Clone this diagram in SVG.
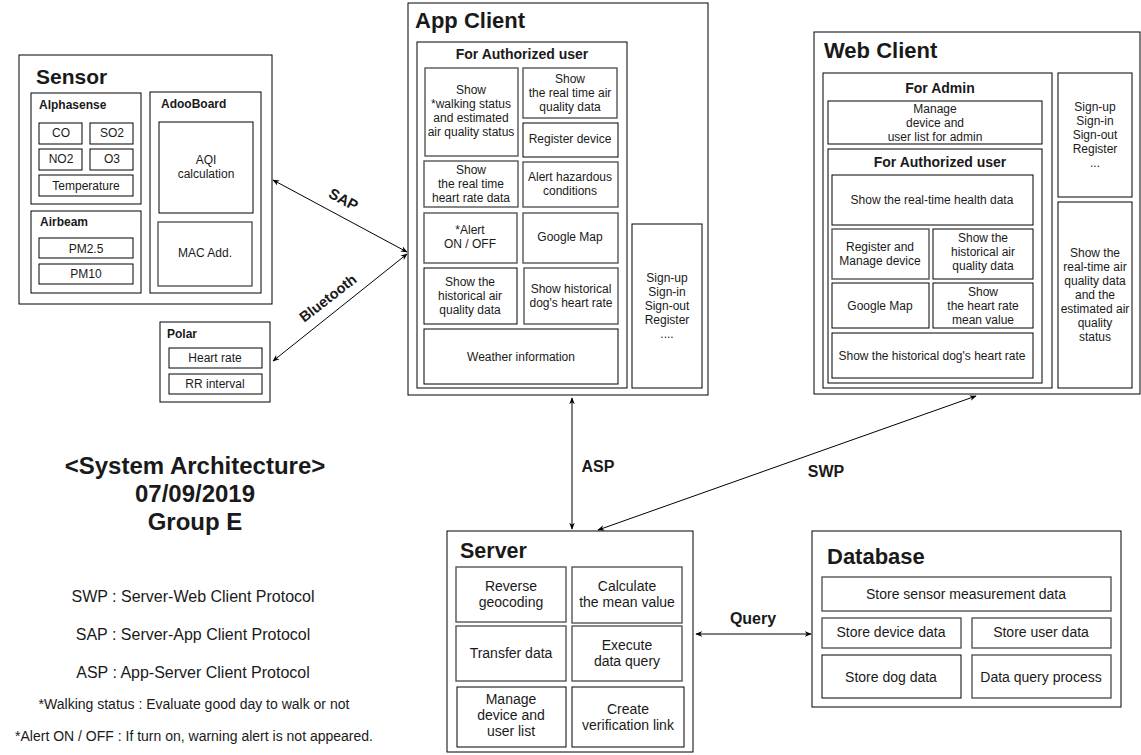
<svg xmlns="http://www.w3.org/2000/svg" width="1141" height="755" viewBox="0 0 1141 755">
<defs>
<marker id="ah" viewBox="0 0 10 10" refX="9" refY="5" markerWidth="7" markerHeight="7" orient="auto-start-reverse" markerUnits="userSpaceOnUse">
<path d="M0,1 L10,5 L0,9 L3,5 Z" fill="#000"/>
</marker>
<style>
text{font-family:"Liberation Sans",Arial,sans-serif;fill:#1a1a1a}
.box{fill:#fff;stroke:#000;stroke-width:1}
.in{fill:#fff;stroke:#555;stroke-width:1.4}
.t{font-size:12px;text-anchor:middle}
.t13{font-size:14px;text-anchor:middle}
.h1{font-size:22px;font-weight:bold}
.h2{font-size:14px;font-weight:bold;text-anchor:middle}
.h3{font-size:12px;font-weight:bold}
.lbl{font-size:16px;font-weight:bold;text-anchor:middle}
.line{stroke:#000;stroke-width:1;fill:none}
</style>
</defs>
<rect width="1141" height="755" fill="#fff"/>

<g id="connectors">
<line class="line" x1="273" y1="180" x2="407" y2="252" marker-start="url(#ah)" marker-end="url(#ah)"/>
<line class="line" x1="273" y1="361" x2="407" y2="254" marker-start="url(#ah)" marker-end="url(#ah)"/>
<line class="line" x1="572" y1="398" x2="572" y2="529" marker-start="url(#ah)" marker-end="url(#ah)"/>
<line class="line" x1="976" y1="396" x2="598" y2="530" marker-start="url(#ah)" marker-end="url(#ah)"/>
<line class="line" x1="696" y1="634" x2="811" y2="634" marker-start="url(#ah)" marker-end="url(#ah)"/>
<text class="lbl" style="font-size:15px" transform="translate(341,204) rotate(28)">SAP</text>
<text class="lbl" style="font-size:14.5px" transform="translate(331,302) rotate(-38)">Bluetooth</text>
<text class="lbl" x="598" y="472">ASP</text>
<text class="lbl" x="826" y="477">SWP</text>
<text class="lbl" x="753" y="624">Query</text>
</g>

<g id="sensor">
<rect class="box" x="19" y="55" width="253" height="249"/>
<text class="h1" x="36" y="84" style="font-size:21px">Sensor</text>
<g id="alphasense">
<rect class="box" x="31" y="93" width="110" height="111"/>
<text class="h3" x="39" y="109">Alphasense</text>
<rect class="box" x="39" y="123" width="43" height="21"/><text class="t" x="61" y="137">CO</text>
<rect class="box" x="90" y="123" width="43" height="21"/><text class="t" x="112" y="137">SO2</text>
<rect class="box" x="39" y="149" width="43" height="21"/><text class="t" x="61" y="163">NO2</text>
<rect class="box" x="90" y="149" width="43" height="21"/><text class="t" x="112" y="163">O3</text>
<rect class="box" x="39" y="175" width="94" height="21"/><text class="t" x="86" y="190">Temperature</text>
</g>
<g id="airbeam">
<rect class="box" x="31" y="211" width="110" height="82"/>
<text class="h3" x="40" y="226">Airbeam</text>
<rect class="box" x="39" y="238" width="94" height="20"/><text class="t" x="86" y="253">PM2.5</text>
<rect class="box" x="39" y="264" width="94" height="20"/><text class="t" x="86" y="278">PM10</text>
</g>
<g id="adooboard">
<rect class="box" x="150" y="92" width="111" height="201"/>
<text class="h3" x="161" y="108">AdooBoard</text>
<rect class="box" x="159" y="122" width="94" height="91"/>
<text class="t" x="206" y="164">AQI</text><text class="t" x="206" y="178">calculation</text>
<rect class="in" x="158" y="222" width="94" height="64"/>
<text class="t" x="205" y="257">MAC Add.</text>
</g>
</g>

<g id="polar">
<rect class="box" x="160" y="322" width="110" height="80"/>
<text class="h3" x="167" y="338">Polar</text>
<rect class="box" x="169" y="348" width="93" height="20"/><text class="t" x="215" y="362">Heart rate</text>
<rect class="box" x="169" y="374" width="93" height="20"/><text class="t" x="215" y="388">RR interval</text>
</g>

<g id="app-client">
<rect class="box" x="408" y="3" width="300" height="392"/>
<text class="h1" x="415" y="28">App Client</text>
<rect class="box" x="417" y="42" width="210" height="346"/>
<text class="h2" x="522" y="59">For Authorized user</text>
<rect class="in" x="425" y="68" width="93" height="88"/>
<text class="t" x="471" y="94">Show</text><text class="t" x="471" y="108">*walking status</text><text class="t" x="471" y="122">and estimated</text><text class="t" x="471" y="136">air quality status</text>
<rect class="in" x="523" y="68" width="94" height="50"/>
<text class="t" x="570" y="83">Show</text><text class="t" x="570" y="97">the real time air</text><text class="t" x="570" y="111">quality data</text>
<rect class="box" x="523" y="123" width="95" height="34"/>
<text class="t" x="570" y="143">Register device</text>
<rect class="in" x="424" y="161" width="94" height="46"/>
<text class="t" x="471" y="174">Show</text><text class="t" x="471" y="188">the real time</text><text class="t" x="471" y="202">heart rate data</text>
<rect class="in" x="523" y="162" width="95" height="45"/>
<text class="t" x="570" y="181">Alert hazardous</text><text class="t" x="570" y="195">conditions</text>
<rect class="in" x="424" y="213" width="93" height="50"/>
<text class="t" x="470" y="234">*Alert</text><text class="t" x="470" y="248">ON / OFF</text>
<rect class="in" x="523" y="213" width="95" height="50"/>
<text class="t" x="570" y="241">Google Map</text>
<rect class="box" x="424" y="268" width="93" height="56"/>
<text class="t" x="470" y="286">Show the</text><text class="t" x="470" y="300">historical air</text><text class="t" x="470" y="314">quality data</text>
<rect class="in" x="524" y="268" width="94" height="56"/>
<text class="t" x="571" y="293">Show historical</text><text class="t" x="571" y="307">dog's heart rate</text>
<rect class="box" x="424" y="329" width="194" height="55"/>
<text class="t" x="521" y="361">Weather information</text>
<rect class="box" x="632" y="224" width="70" height="164"/>
<text class="t" x="667" y="282">Sign-up</text><text class="t" x="667" y="296">Sign-in</text><text class="t" x="667" y="310">Sign-out</text><text class="t" x="667" y="324">Register</text><text class="t" x="667" y="338">....</text>
</g>

<g id="web-client">
<rect class="box" x="814" y="32" width="326" height="362"/>
<text class="h1" x="824" y="58">Web Client</text>
<rect class="box" x="823" y="73" width="229" height="315"/>
<text class="h2" x="940" y="93">For Admin</text>
<rect class="box" x="828" y="101" width="214" height="43"/>
<text class="t" x="935" y="113">Manage</text><text class="t" x="935" y="127">device and</text><text class="t" x="935" y="141">user list for admin</text>
<rect class="box" x="828" y="149" width="214" height="234"/>
<text class="h2" x="940" y="167">For Authorized user</text>
<rect class="box" x="832" y="175" width="201" height="50"/>
<text class="t" x="932" y="204">Show the real-time health data</text>
<rect class="in" x="832" y="229" width="97" height="50"/>
<text class="t" x="880" y="251">Register and</text><text class="t" x="880" y="265">Manage device</text>
<rect class="box" x="933" y="229" width="100" height="50"/>
<text class="t" x="983" y="242">Show the</text><text class="t" x="983" y="256">historical air</text><text class="t" x="983" y="270">quality data</text>
<rect class="box" x="832" y="283" width="97" height="45"/>
<text class="t" x="880" y="310">Google Map</text>
<rect class="box" x="933" y="283" width="100" height="45"/>
<text class="t" x="983" y="296">Show</text><text class="t" x="983" y="310">the heart rate</text><text class="t" x="983" y="324">mean value</text>
<rect class="box" x="832" y="333" width="201" height="45"/>
<text class="t" x="932" y="360">Show the historical dog's heart rate</text>
<rect class="box" x="1058" y="73" width="74" height="124"/>
<text class="t" x="1095" y="111">Sign-up</text><text class="t" x="1095" y="125">Sign-in</text><text class="t" x="1095" y="139">Sign-out</text><text class="t" x="1095" y="153">Register</text><text class="t" x="1095" y="167">...</text>
<rect class="box" x="1058" y="202" width="74" height="186"/>
<text class="t" x="1095" y="257">Show the</text><text class="t" x="1095" y="271">real-time air</text><text class="t" x="1095" y="285">quality data</text><text class="t" x="1095" y="299">and the</text><text class="t" x="1095" y="313">estimated air</text><text class="t" x="1095" y="327">quality</text><text class="t" x="1095" y="341">status</text>
</g>

<g id="server">
<rect class="box" x="447" y="531" width="246" height="221"/>
<text class="h1" x="460" y="558" style="font-size:21.5px">Server</text>
<rect class="in" x="456" y="567" width="110" height="55"/>
<text class="t13" x="511" y="591">Reverse</text><text class="t13" x="511" y="607">geocoding</text>
<rect class="in" x="572" y="567" width="110" height="56"/>
<text class="t13" x="627" y="591">Calculate</text><text class="t13" x="627" y="607">the mean value</text>
<rect class="in" x="456" y="626" width="110" height="55"/>
<text class="t13" x="511" y="658">Transfer data</text>
<rect class="in" x="572" y="626" width="110" height="55"/>
<text class="t13" x="627" y="650">Execute</text><text class="t13" x="627" y="666">data query</text>
<rect class="box" x="457" y="687" width="109" height="60"/>
<text class="t13" x="511" y="704">Manage</text><text class="t13" x="511" y="720">device and</text><text class="t13" x="511" y="736">user list</text>
<rect class="box" x="572" y="687" width="112" height="60"/>
<text class="t13" x="628" y="714">Create</text><text class="t13" x="628" y="730">verification link</text>
</g>

<g id="database">
<rect class="box" x="812" y="531" width="309" height="176"/>
<text class="h1" x="827" y="564">Database</text>
<rect class="in" x="822" y="577" width="289" height="34"/>
<text class="t13" x="966" y="599">Store sensor measurement data</text>
<rect class="in" x="822" y="618" width="139" height="30"/>
<text class="t13" x="891" y="637">Store device data</text>
<rect class="in" x="972" y="618" width="139" height="30"/>
<text class="t13" x="1041" y="637">Store user data</text>
<rect class="box" x="822" y="655" width="139" height="43"/>
<text class="t13" x="891" y="682">Store dog data</text>
<rect class="in" x="972" y="655" width="139" height="43"/>
<text class="t13" x="1041" y="682">Data query process</text>
</g>

<g id="legend">
<text x="195" y="474" style="font-size:24px;font-weight:bold;text-anchor:middle">&lt;System Architecture&gt;</text>
<text x="195" y="502" style="font-size:24px;font-weight:bold;text-anchor:middle">07/09/2019</text>
<text x="195" y="530" style="font-size:24px;font-weight:bold;text-anchor:middle">Group E</text>
<text x="193" y="602" style="font-size:16px;text-anchor:middle">SWP : Server-Web Client Protocol</text>
<text x="193" y="640" style="font-size:16px;text-anchor:middle">SAP : Server-App Client Protocol</text>
<text x="193" y="678" style="font-size:16px;text-anchor:middle">ASP : App-Server Client Protocol</text>
<text x="194" y="709" style="font-size:14px;text-anchor:middle">*Walking status : Evaluate good day to walk or not</text>
<text x="194" y="741" style="font-size:14px;text-anchor:middle">*Alert ON / OFF : If turn on, warning alert is not appeared.</text>
</g>
</svg>
